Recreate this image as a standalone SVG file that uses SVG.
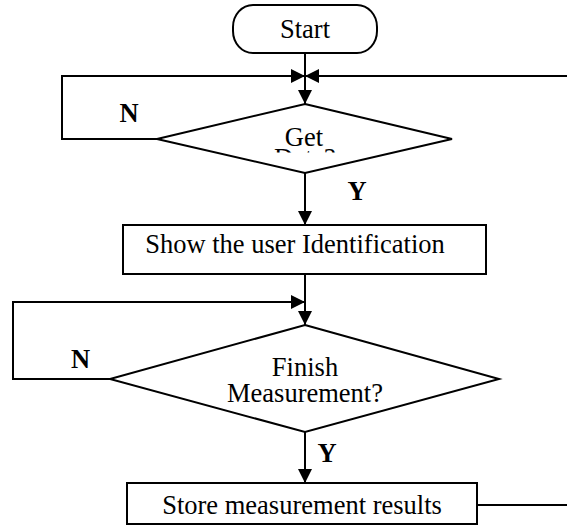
<svg xmlns="http://www.w3.org/2000/svg" width="567" height="526" viewBox="0 0 567 526">
<style>
.shape{fill:#fff;stroke:#000;stroke-width:2}
.line{fill:none;stroke:#000;stroke-width:2}
.t{font-family:"Liberation Serif","Times New Roman",serif;font-size:26.5px;fill:#000;text-anchor:middle}
.b{font-weight:bold}
</style>
<defs>
<marker id="ah" markerUnits="userSpaceOnUse" markerWidth="16" markerHeight="16" refX="14" refY="7" orient="auto">
<path d="M0,0 L14,7 L0,14 Z" fill="#000"/>
</marker>
<clipPath id="clipData"><rect x="150" y="100" width="300" height="52.5"/></clipPath>
</defs>
<g id="connectors">
<path class="line" d="M305,53 V104" marker-end="url(#ah)"/>
<path class="line" d="M157,139 H62 V76 H305" marker-end="url(#ah)"/>
<path class="line" d="M567,76 H305" marker-end="url(#ah)"/>
<path class="line" d="M305,173 V225" marker-end="url(#ah)"/>
<path class="line" d="M305,274 V325" marker-end="url(#ah)"/>
<path class="line" d="M110,379 H13 V302 H305" marker-end="url(#ah)"/>
<path class="line" d="M305,432 V483" marker-end="url(#ah)"/>
<path class="line" d="M477,505 H567"/>
<text class="t b" x="129" y="122">N</text>
<text class="t b" x="357" y="200">Y</text>
<text class="t b" x="80.5" y="368">N</text>
<text class="t b" x="327" y="462">Y</text>
</g>
<g id="start">
<rect class="shape" x="233" y="5" width="144" height="48" rx="20" ry="22"/>
<text class="t" x="305" y="38">Start</text>
</g>
<g id="getData">
<polygon class="shape" points="305,104 452,139 305,173 157,139"/>
<text class="t" clip-path="url(#clipData)"><tspan x="304" y="146">Get</tspan><tspan x="305" y="167">Data?</tspan></text>
</g>
<g id="showId">
<rect class="shape" x="123" y="225" width="363" height="49"/>
<text class="t" x="295" y="253">Show the user Identification</text>
</g>
<g id="finish">
<polygon class="shape" points="305,325 499,379 305,432 110,379"/>
<text class="t"><tspan x="305" y="376">Finish</tspan><tspan x="305" y="402">Measurement?</tspan></text>
</g>
<g id="store">
<rect class="shape" x="127" y="483" width="350" height="41"/>
<text class="t" x="302" y="514">Store measurement results</text>
</g>
</svg>
